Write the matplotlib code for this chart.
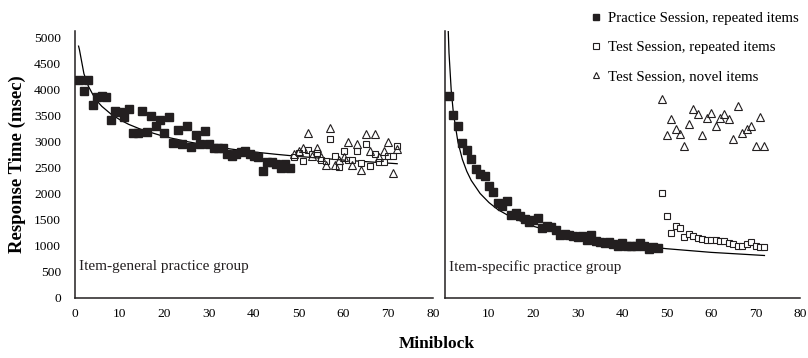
import numpy as np
import matplotlib
matplotlib.use("Agg")
from matplotlib import pyplot as plt

plt.rcParams['font.family'] = ['Liberation Serif', 'DejaVu Serif']

# miniblocks: practice session 1-48, test session 49-72
practice_x = np.arange(1, 49)
test_x = np.arange(49, 73)

# item-general group (left panel)
gen_practice = [4190, 3970, 4190, 3700, 3845, 3870, 3845, 3420, 3590, 3570,
                3470, 3620, 3170, 3155, 3580, 3190, 3490, 3300, 3410, 3155,
                3470, 2975, 3220, 2950, 3300, 2900, 3120, 2945, 3205, 2945,
                2870, 2885, 2880, 2755, 2725, 2755, 2800, 2820, 2770, 2725,
                2705, 2440, 2600, 2600, 2565, 2485, 2565, 2485]
gen_test_rep = [2700, 2780, 2630, 2835, 2770, 2785, 2655, 2630, 3040, 2725,
                2505, 2820, 2645, 2655, 2820, 2580, 2950, 2535, 2760, 2610,
                2610, 2720, 2720, 2910]
gen_test_novel = [2760, 2820, 2870, 3160, 2720, 2870, 2700, 2560, 3260, 2560,
                  2645, 2700, 2990, 2560, 2950, 2450, 3140, 2820, 3140, 2700,
                  2820, 3000, 2390, 2850]
gen_fit_x = [0.8, 1, 2, 3, 4, 5, 6, 8, 10, 12, 15, 20, 25, 30, 35, 40, 45, 50,
             55, 60, 65, 72]
gen_fit = [4830, 4760, 4300, 4060, 3900, 3770, 3675, 3530, 3420, 3330, 3225,
           3095, 3000, 2920, 2855, 2800, 2755, 2715, 2680, 2645, 2615, 2575]

# item-specific group (right panel)
spec_practice = [3870, 3505, 3300, 2975, 2835, 2665, 2465, 2370, 2335, 2145,
                 2035, 1825, 1760, 1865, 1590, 1625, 1570, 1510, 1460, 1495,
                 1525, 1335, 1380, 1365, 1305, 1205, 1220, 1200, 1190, 1170,
                 1190, 1110, 1205, 1100, 1080, 1060, 1080, 1030, 995, 1060,
                 995, 1000, 995, 1050, 1000, 935, 980, 950]
spec_test_rep = [2005, 1575, 1250, 1385, 1345, 1165, 1220, 1180, 1150, 1130,
                 1120, 1110, 1110, 1100, 1090, 1060, 1030, 990, 1000, 1040,
                 1070, 990, 980, 970]
spec_test_novel = [3825, 3125, 3430, 3250, 3140, 2920, 3345, 3620, 3520, 3125,
                   3445, 3555, 3295, 3445, 3525, 3430, 3040, 3685, 3155, 3240,
                   3295, 2920, 3475, 2920]
spec_fit_x = [0.7, 1, 1.5, 2, 3, 4, 5, 6, 8, 10, 12, 15, 20, 25, 30, 40, 50,
              60, 72]
spec_fit = [5440, 4700, 3980, 3535, 2995, 2660, 2430, 2255, 2005, 1830, 1695,
            1550, 1375, 1255, 1165, 1035, 945, 875, 815]

yticks = [0, 500, 1000, 1500, 2000, 2500, 3000, 3500, 4000, 4500, 5000]
left_xticks = [0, 10, 20, 30, 40, 50, 60, 70, 80]
right_xticks = [10, 20, 30, 40, 50, 60, 70, 80]

dark = '#231f20'

fig = plt.figure(figsize=(8.08, 3.58), dpi=100)
ax1 = fig.add_axes([0.0928, 0.1676, 0.4431, 0.7458])
ax2 = fig.add_axes([0.5502, 0.1676, 0.4399, 0.7458])

panels = [
    (ax1, gen_practice, gen_test_rep, gen_test_novel, gen_fit_x, gen_fit,
     'Item-general practice group', left_xticks),
    (ax2, spec_practice, spec_test_rep, spec_test_novel, spec_fit_x, spec_fit,
     'Item-specific practice group', right_xticks),
]

for ax, prac, rep, nov, fx, fy, label, xt in panels:
    ax.plot(fx, fy, color='black', lw=0.9, zorder=2)
    ax.plot(practice_x, prac, 's', color=dark, ms=5.2, mec=dark, zorder=3,
            label='Practice Session, repeated items')
    ax.plot(test_x, rep, 's', mfc='white', mec=dark, ms=5, mew=0.8, zorder=3,
            label='Test Session, repeated items')
    ax.plot(test_x, nov, '^', mfc='none', mec=dark, ms=6, mew=0.8, zorder=4,
            label='Test Session, novel items')
    ax.set_xlim(0, 80)
    ax.set_ylim(0, 5120)
    ax.set_xticks(xt)
    ax.tick_params(axis='both', length=0, labelsize=9.7)
    ax.tick_params(axis='x', pad=7)
    ax.tick_params(axis='y', pad=10)
    for side in ['top', 'right']:
        ax.spines[side].set_visible(False)
    for side in ['left', 'bottom']:
        ax.spines[side].set_color(dark)
        ax.spines[side].set_linewidth(1.1)
    ax.text(1, 600, label, fontsize=11, va='center', ha='left', color=dark)

ax1.set_yticks(yticks)
ax2.set_yticks([])
ax1.set_ylabel('Response Time (msec)', fontsize=13.5, fontweight='bold', labelpad=6)
fig.text(0.541, 0.04, 'Miniblock', fontsize=12.5, fontweight='bold', ha='center', va='center')

handles, labels = ax1.get_legend_handles_labels()
fig.legend(handles, labels, loc='upper right', bbox_to_anchor=(1.0, 0.993),
           frameon=False, fontsize=10.7, markerscale=0.75, handlelength=0.6,
           handletextpad=0.5, labelspacing=1.05, borderaxespad=0.2)

fig.savefig('out.png', dpi=100)
